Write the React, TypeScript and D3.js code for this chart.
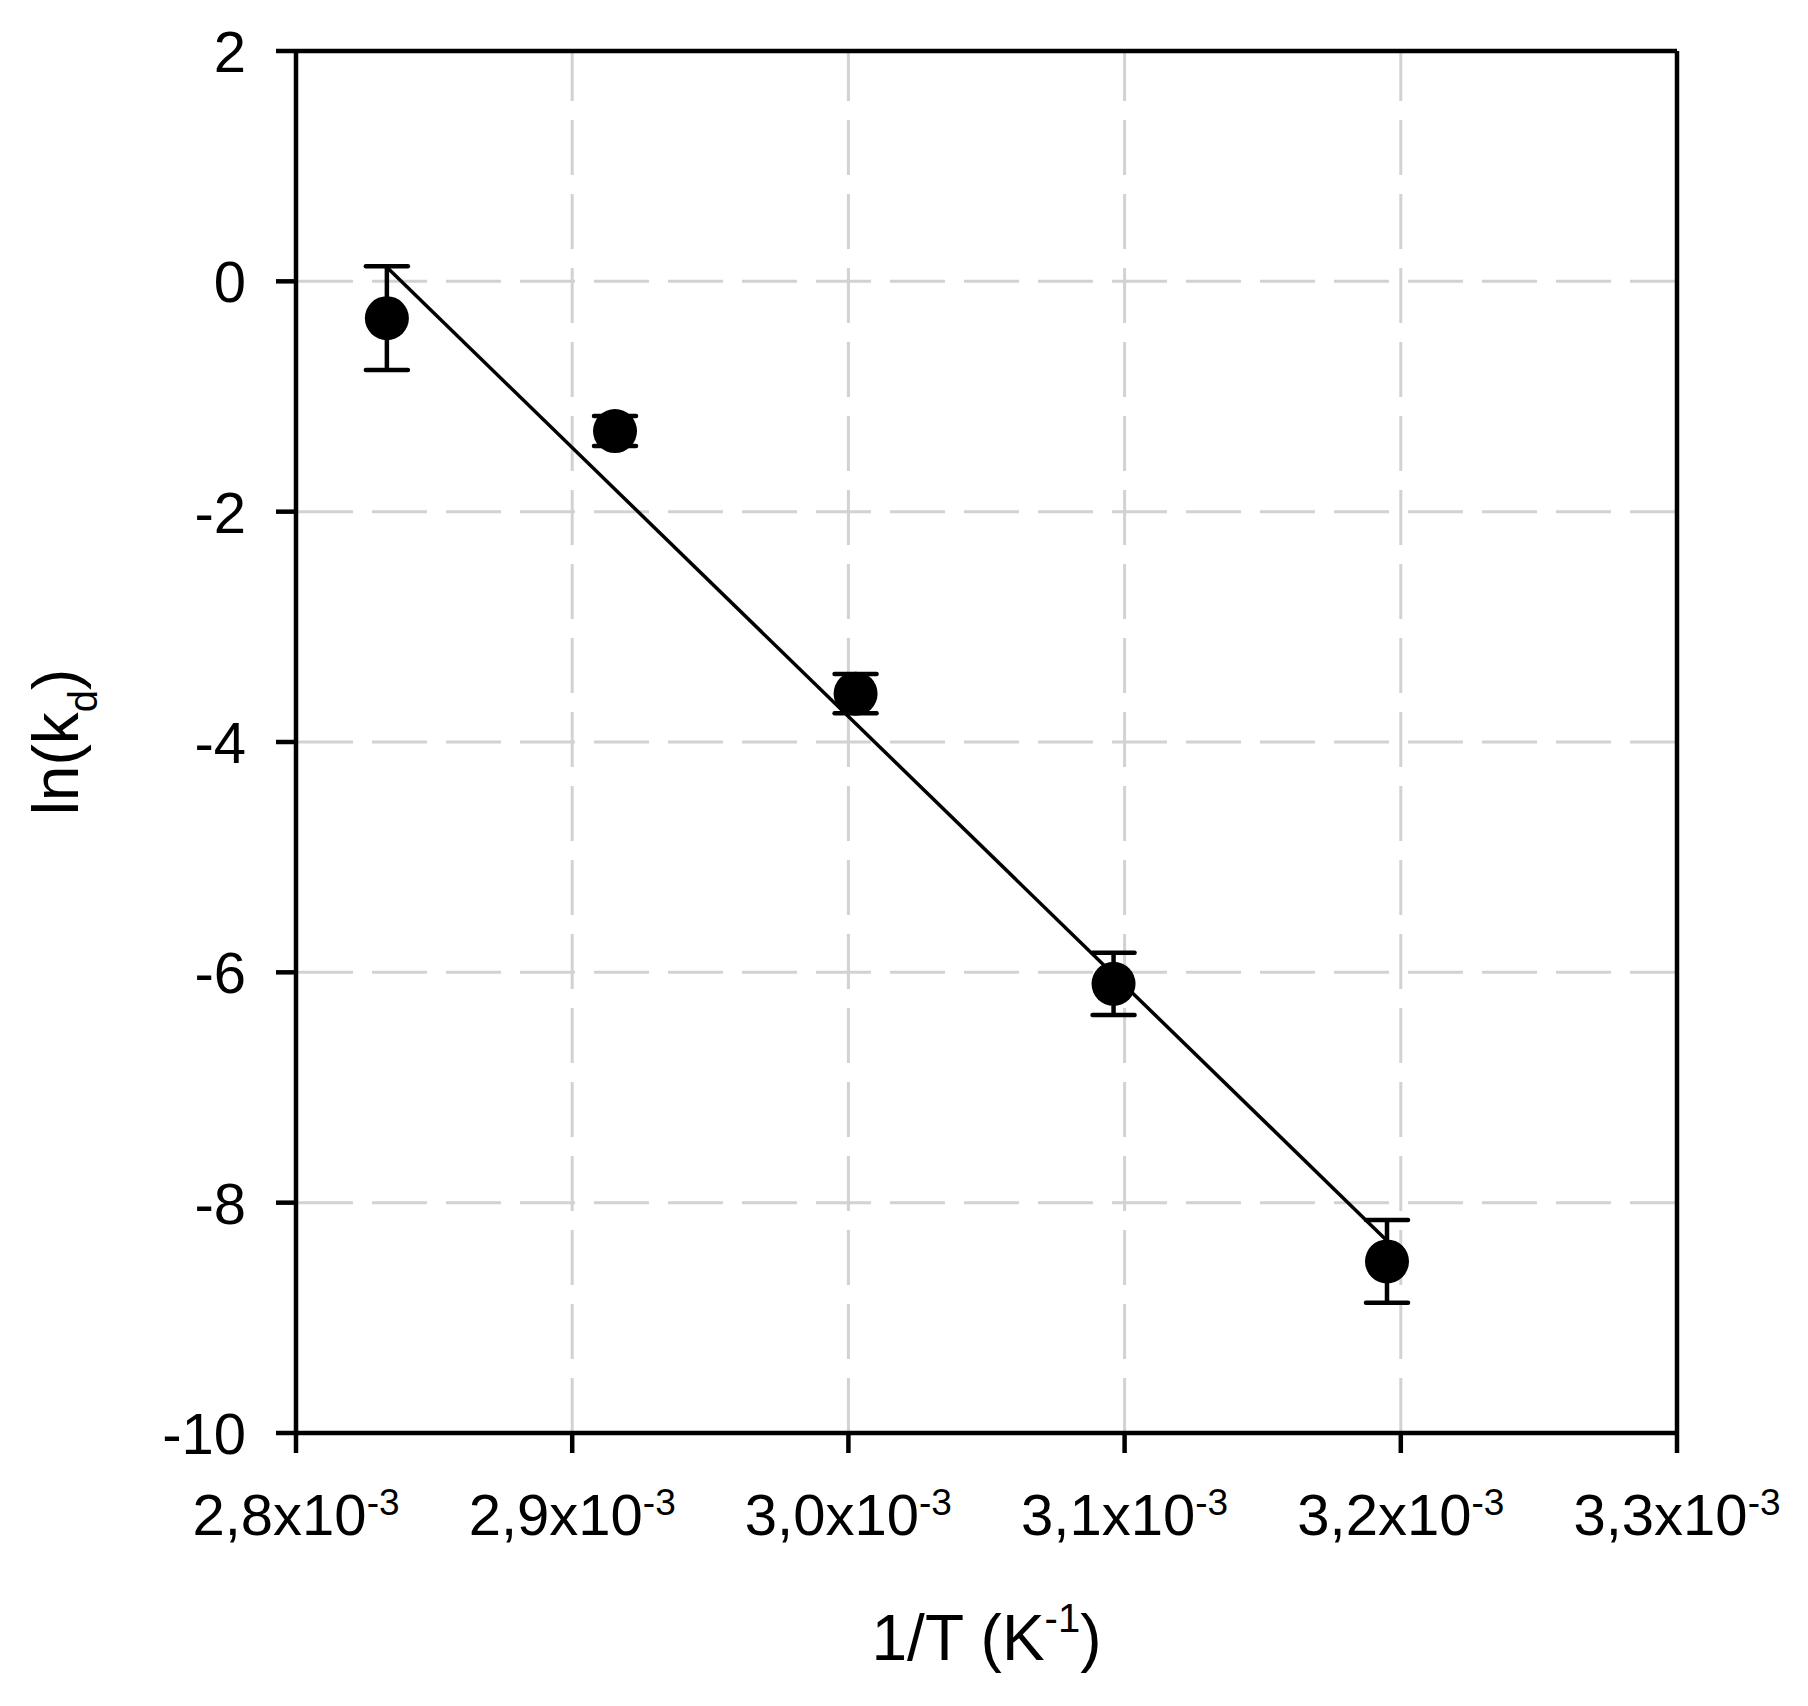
import React from "react";
import * as d3 from "d3";

const invT = [2.8329e-3, 2.9155e-3, 3.0026e-3, 3.096e-3, 3.195e-3];
const lnKd = [-0.32, -1.3, -3.58, -6.1, -8.51];
const errKd = [0.45, 0.13, 0.17, 0.27, 0.36];
const fitX = [2.833e-3, 3.195e-3];
const fitY = [0.12, -8.33];
const xTicks = [2.8e-3, 2.9e-3, 3.0e-3, 3.1e-3, 3.2e-3, 3.3e-3];
const xTickLabels = ["2,8", "2,9", "3,0", "3,1", "3,2", "3,3"];
const yTicks = [2, 0, -2, -4, -6, -8, -10];
const yGrid = [0, -2, -4, -6, -8];
const xGrid = [2.9e-3, 3.0e-3, 3.1e-3, 3.2e-3];

const W = 1808;
const H = 1706;
const L = 296, R = 1677, T = 51, B = 1433;
const FONT = "Liberation Sans, Arial, Helvetica, sans-serif";

export default function App() {
  const x = d3.scaleLinear().domain([2.8e-3, 3.3e-3]).range([L, R]);
  const y = d3.scaleLinear().domain([-10, 2]).range([B, T]);
  const line = d3.line<number>().x((_, i) => x(fitX[i])).y((d) => y(d));
  const grid = "#d2d2d2";
  return (
    <svg width={W} height={H} style={{ position: "absolute", left: 0, top: 0, background: "#fff" }} fontFamily={FONT}>
      <rect x={0} y={0} width={W} height={H} fill="#fff" />
      {yGrid.map((v) => (
        <line key={"hg" + v} x1={L + 2} x2={R} y1={y(v)} y2={y(v)} stroke={grid} strokeWidth={3} strokeDasharray="55 19" />
      ))}
      {xGrid.map((v) => (
        <line key={"vg" + v} x1={x(v)} x2={x(v)} y1={B} y2={T} stroke={grid} strokeWidth={3} strokeDasharray="55 19" />
      ))}
      {/* frame */}
      <line x1={L} x2={L} y1={T} y2={B} stroke="#000" strokeWidth={4.5} />
      <line x1={R} x2={R} y1={T} y2={B} stroke="#000" strokeWidth={4.5} />
      <line x1={L} x2={R} y1={T} y2={T} stroke="#000" strokeWidth={4.5} />
      <line x1={L} x2={R} y1={B} y2={B} stroke="#000" strokeWidth={4.5} />
      {yTicks.map((v) => (
        <g key={"yt" + v}>
          <line x1={L - 20} x2={L} y1={y(v)} y2={y(v)} stroke="#000" strokeWidth={4.5} />
          <text x={246} y={y(v)} dy="0.36em" textAnchor="end" fontSize={58}>{String(v).replace("-", "-")}</text>
        </g>
      ))}
      {xTicks.map((v, i) => (
        <g key={"xt" + i}>
          <line x1={x(v)} x2={x(v)} y1={B} y2={B + 20} stroke="#000" strokeWidth={4.5} />
          <text x={x(v)} y={1535} textAnchor="middle" fontSize={58}>
            {xTickLabels[i] + "x10"}
            <tspan fontSize={37} dy={-20}>-3</tspan>
          </text>
        </g>
      ))}
      {/* fit line */}
      <path d={line(fitY) || ""} fill="none" stroke="#000" strokeWidth={3.5} />
      {/* error bars and points */}
      {invT.map((v, i) => {
        const cx = x(v);
        const top = y(lnKd[i] + errKd[i]);
        const bot = y(lnKd[i] - errKd[i]);
        return (
          <g key={"p" + i}>
            <line x1={cx} x2={cx} y1={top} y2={bot} stroke="#000" strokeWidth={4.5} />
            <line x1={cx - 21} x2={cx + 21} y1={top} y2={top} stroke="#000" strokeWidth={4.5} strokeLinecap="round" />
            <line x1={cx - 21} x2={cx + 21} y1={bot} y2={bot} stroke="#000" strokeWidth={4.5} strokeLinecap="round" />
            <circle cx={cx} cy={y(lnKd[i])} r={22} fill="#000" />
          </g>
        );
      })}
      {/* axis titles */}
      <text x={(L + R) / 2} y={1660} textAnchor="middle" fontSize={64}>
        1/T (K
        <tspan fontSize={40} dy={-28}>-1</tspan>
        <tspan fontSize={64} dy={28}>)</tspan>
      </text>
      <text transform={`translate(78, ${(T + B) / 2}) rotate(-90)`} textAnchor="middle" fontSize={64}>
        ln(k
        <tspan fontSize={40} dy={19}>d</tspan>
        <tspan fontSize={64} dy={-19}>)</tspan>
      </text>
    </svg>
  );
}
